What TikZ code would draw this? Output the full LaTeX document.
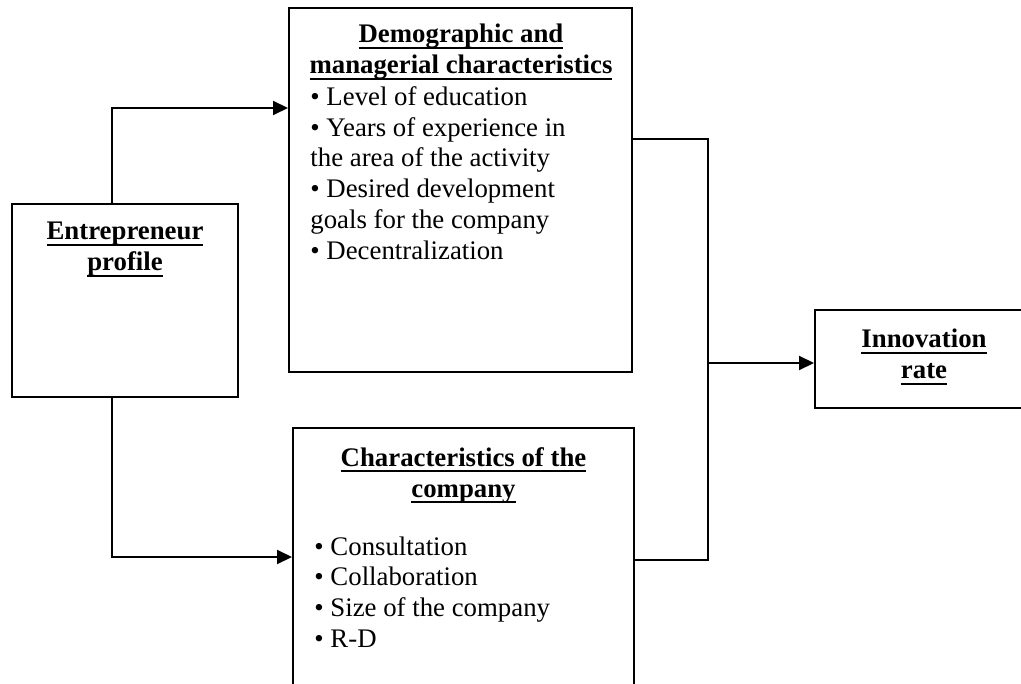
\documentclass[tikz,border=0pt]{standalone}
\usepackage{fontspec}
\setmainfont{Liberation Serif}
\usetikzlibrary{arrows.meta, positioning}

% thick underline for the box headings
\newcommand{\uhead}[1]{%
  \setbox0\hbox{#1}\leavevmode\rlap{\rule[-2.9pt]{\wd0}{0.9pt}}\box0}

\begin{document}
\begin{tikzpicture}[x=0.5pt, y=-0.5pt,
  %%── Styles ───────────────────────────────────────────────────────────────
  box/.style={
    draw=black, line width=1pt, inner sep=0pt
  },
  head/.style={
    font=\fontsize{13.4pt}{15.4pt}\selectfont\bfseries,
    align=center, inner sep=0pt, anchor=north
  },
  items/.style={
    font=\fontsize{13.4pt}{15.4pt}\selectfont,
    align=left, inner sep=0pt, anchor=north west
  },
  link/.style={draw=black, line width=1pt},
  arrow/.style={link, -{Triangle[length=7.5pt, width=7pt]}},
]

%%── Canvas (1021 x 684 px, y downwards) ─────────────────────────────────
\useasboundingbox (0,0) rectangle (1021,684);
\clip (0,0) rectangle (1021,684);

%%── Boxes ───────────────────────────────────────────────────────────────
\node[box, minimum width=113pt, minimum height=96.5pt] (entre)
    at (125, 300.5) {};
\node[box, minimum width=171.5pt, minimum height=182pt] (demo)
    at (460.5, 190) {};
\node[box, minimum width=170.5pt, minimum height=146pt] (comp)
    at (463.5, 574) {};
\node[box, minimum width=107.5pt, minimum height=49pt] (innov)
    at (922.5, 359) {};

%%── Texts ───────────────────────────────────────────────────────────────
\node[head] (entrehead) at (125, 222)
    {\uhead{Entrepreneur}\\ \uhead{profile}};

\node[head] (demohead) at (461, 24)
    {\uhead{Demographic and}\\ \uhead{managerial characteristics}};
\node[items] (demolist) at (310, 86)
    {\textbullet{} Level of education\\
     \textbullet{} Years of experience in\\
     the area of the activity\\
     \textbullet{} Desired development\\
     goals for the company\\
     \textbullet{} Decentralization};

\node[head] (comphead) at (463.5, 447)
    {\uhead{Characteristics of the}\\ \uhead{company}};
\node[items] (complist) at (314, 536)
    {\textbullet{} Consultation\\
     \textbullet{} Collaboration\\
     \textbullet{} Size of the company\\
     \textbullet{} R-D};

\node[head] (innovhead) at (924, 329)
    {\uhead{Innovation}\\ \uhead{rate}};

%%── Connectors ──────────────────────────────────────────────────────────
\coordinate (upsplit)  at (112, 108);
\coordinate (lowsplit) at (112, 557);
\coordinate (join)     at (708, 363);

\draw[arrow] (entre.north -| upsplit) |- (demo.west |- upsplit);
\draw[arrow] (entre.south -| lowsplit) |- (comp.west |- lowsplit);

\draw[link] (demo.east |- 0,139) -| (join |- 0,560) -- (comp.east |- 0,560);
\draw[arrow] (join) -- (join -| innov.west);

\end{tikzpicture}
\end{document}
